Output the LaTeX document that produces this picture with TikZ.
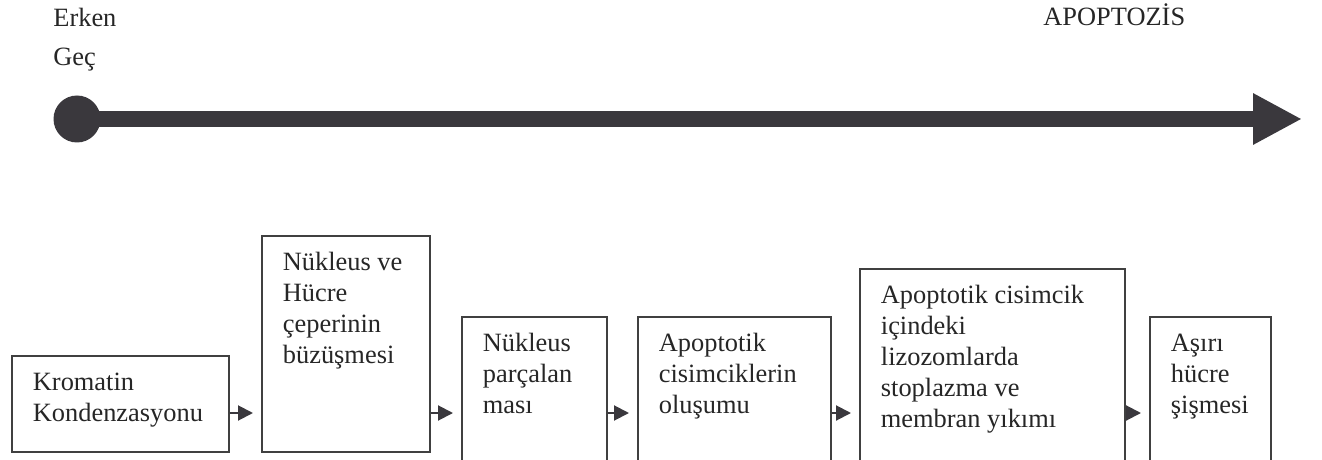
\documentclass[tikz,border=0pt]{standalone}
\usepackage{fontspec}
\setmainfont{Liberation Serif}
\usetikzlibrary{arrows.meta,positioning}
\definecolor{linegray}{HTML}{3A383D}
\definecolor{boxgray}{HTML}{404040}
\newcommand{\stagetext}[3]{\parbox[t][#2][t]{#1}{\raggedright\strut #3}}

\begin{document}
\begin{tikzpicture}[
    x=0.5pt, y=-0.5pt,
    every node/.style={font=\fontsize{13.2}{15.5}\selectfont, text=black!85},
    stage/.style={draw=boxgray, line width=0.9pt, inner xsep=10.5pt, inner ysep=6.65pt, anchor=north west},
    flow/.style={-{Triangle[length=7.5pt,width=7.5pt]}, draw=linegray, line width=1pt, shorten >=4pt},
    timeline/.style={draw=linegray, line width=8pt, -{Triangle[length=24.5pt,width=24pt]}},
    tag/.style={anchor=base west, inner sep=0pt},
]
\useasboundingbox (0,0) rectangle (1322,460);
\clip (0,0) rectangle (1322,460);

% Headings
\node[tag] (erken) at (53,27) {Erken};
\node[tag] (gec) at (53,66) {Geç};
\node[tag] (apop) at (1043,26) {APOPTOZİS};

% Time line
\node[circle, fill=linegray, minimum size=23.5pt, inner sep=0pt] (onset) at (77,119) {};
\coordinate (tip) at (1302,119);
\draw[timeline] (onset.center) -- (tip);

% Stages
\node[stage] (kromatin) at (11,355) {\stagetext{87.5pt}{34.7pt}{Kromatin\\Kondenzasyonu}};
\node[stage] (buzusme) at (261,235) {\stagetext{63pt}{94.7pt}{Nükleus ve\\Hücre\\çeperinin\\büzüşmesi}};
\node[stage] (parcalanma) at (461,316) {\stagetext{51.5pt}{63.7pt}{Nükleus\\parçalan\\ması}};
\node[stage] (cisimcik) at (637,316) {\stagetext{75.5pt}{63.7pt}{Apoptotik\\cisimciklerin\\oluşumu}};
\node[stage] (yikim) at (859,268) {\stagetext{111.5pt}{87.7pt}{Apoptotik cisimcik\\içindeki\\lizozomlarda\\stoplazma ve\\membran yıkımı}};
\node[stage] (sisme) at (1149,316) {\stagetext{39.5pt}{63.7pt}{Aşırı\\hücre\\şişmesi}};

% Arrows between stages
\coordinate (row) at (0,413);
\draw[flow] (kromatin.east |- row) -- (buzusme.west |- row);
\draw[flow] (buzusme.east |- row) -- (parcalanma.west |- row);
\draw[flow] (parcalanma.east |- row) -- (cisimcik.west |- row);
\draw[flow] (cisimcik.east |- row) -- (yikim.west |- row);
\draw[flow] (yikim.east |- row) -- (sisme.west |- row);

\end{tikzpicture}
\end{document}
